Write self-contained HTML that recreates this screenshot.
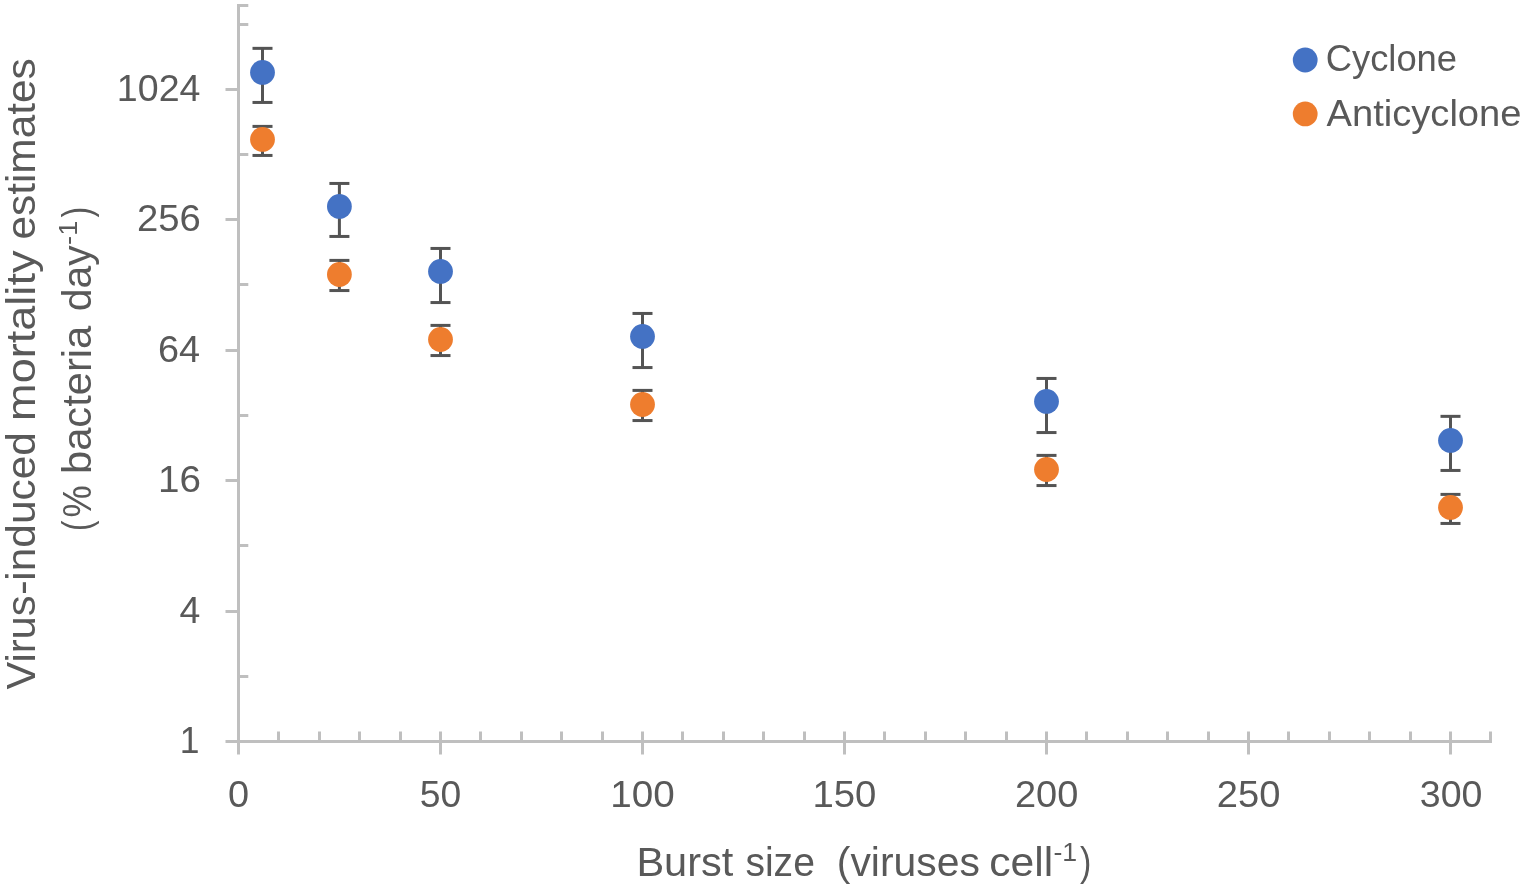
<!DOCTYPE html>
<html lang="en"><head><meta charset="utf-8"><title>Virus-induced mortality estimates vs burst size</title>
<style>html,body{margin:0;padding:0;background:#fff;overflow:hidden}svg{display:block}</style></head>
<body>
<svg width="1526" height="888" viewBox="0 0 1526 888" font-family="'Liberation Sans', sans-serif" fill="#595959">
<rect width="1526" height="888" fill="#fff"/>
<g id="axes">
<rect x="237.00" y="4.00" width="3.00" height="750.50" fill="#BFBFBF"/>
<rect x="225.50" y="740.00" width="1266.50" height="3.00" fill="#BFBFBF"/>
<rect x="225.50" y="610.00" width="12.00" height="3.00" fill="#BFBFBF"/>
<rect x="225.50" y="479.00" width="12.00" height="3.00" fill="#BFBFBF"/>
<rect x="225.50" y="349.00" width="12.00" height="3.00" fill="#BFBFBF"/>
<rect x="225.50" y="218.00" width="12.00" height="3.00" fill="#BFBFBF"/>
<rect x="225.50" y="88.00" width="12.00" height="3.00" fill="#BFBFBF"/>
<rect x="239.00" y="675.00" width="9.30" height="3.00" fill="#BFBFBF"/>
<rect x="239.00" y="544.00" width="9.30" height="3.00" fill="#BFBFBF"/>
<rect x="239.00" y="414.00" width="9.30" height="3.00" fill="#BFBFBF"/>
<rect x="239.00" y="283.00" width="9.30" height="3.00" fill="#BFBFBF"/>
<rect x="239.00" y="153.00" width="9.30" height="3.00" fill="#BFBFBF"/>
<rect x="239.00" y="23.00" width="9.30" height="3.00" fill="#BFBFBF"/>
<rect x="239.00" y="4.00" width="9.30" height="3.00" fill="#BFBFBF"/>
<rect x="439.00" y="742.00" width="3.00" height="12.50" fill="#BFBFBF"/>
<rect x="641.00" y="742.00" width="3.00" height="12.50" fill="#BFBFBF"/>
<rect x="843.00" y="742.00" width="3.00" height="12.50" fill="#BFBFBF"/>
<rect x="1045.00" y="742.00" width="3.00" height="12.50" fill="#BFBFBF"/>
<rect x="1247.00" y="742.00" width="3.00" height="12.50" fill="#BFBFBF"/>
<rect x="1449.00" y="742.00" width="3.00" height="12.50" fill="#BFBFBF"/>
<rect x="277.00" y="731.50" width="3.00" height="9.00" fill="#BFBFBF"/>
<rect x="318.00" y="731.50" width="3.00" height="9.00" fill="#BFBFBF"/>
<rect x="358.00" y="731.50" width="3.00" height="9.00" fill="#BFBFBF"/>
<rect x="399.00" y="731.50" width="3.00" height="9.00" fill="#BFBFBF"/>
<rect x="439.00" y="731.50" width="3.00" height="9.00" fill="#BFBFBF"/>
<rect x="479.00" y="731.50" width="3.00" height="9.00" fill="#BFBFBF"/>
<rect x="520.00" y="731.50" width="3.00" height="9.00" fill="#BFBFBF"/>
<rect x="560.00" y="731.50" width="3.00" height="9.00" fill="#BFBFBF"/>
<rect x="601.00" y="731.50" width="3.00" height="9.00" fill="#BFBFBF"/>
<rect x="641.00" y="731.50" width="3.00" height="9.00" fill="#BFBFBF"/>
<rect x="681.00" y="731.50" width="3.00" height="9.00" fill="#BFBFBF"/>
<rect x="722.00" y="731.50" width="3.00" height="9.00" fill="#BFBFBF"/>
<rect x="762.00" y="731.50" width="3.00" height="9.00" fill="#BFBFBF"/>
<rect x="803.00" y="731.50" width="3.00" height="9.00" fill="#BFBFBF"/>
<rect x="843.00" y="731.50" width="3.00" height="9.00" fill="#BFBFBF"/>
<rect x="883.00" y="731.50" width="3.00" height="9.00" fill="#BFBFBF"/>
<rect x="924.00" y="731.50" width="3.00" height="9.00" fill="#BFBFBF"/>
<rect x="964.00" y="731.50" width="3.00" height="9.00" fill="#BFBFBF"/>
<rect x="1005.00" y="731.50" width="3.00" height="9.00" fill="#BFBFBF"/>
<rect x="1045.00" y="731.50" width="3.00" height="9.00" fill="#BFBFBF"/>
<rect x="1085.00" y="731.50" width="3.00" height="9.00" fill="#BFBFBF"/>
<rect x="1126.00" y="731.50" width="3.00" height="9.00" fill="#BFBFBF"/>
<rect x="1166.00" y="731.50" width="3.00" height="9.00" fill="#BFBFBF"/>
<rect x="1207.00" y="731.50" width="3.00" height="9.00" fill="#BFBFBF"/>
<rect x="1247.00" y="731.50" width="3.00" height="9.00" fill="#BFBFBF"/>
<rect x="1287.00" y="731.50" width="3.00" height="9.00" fill="#BFBFBF"/>
<rect x="1328.00" y="731.50" width="3.00" height="9.00" fill="#BFBFBF"/>
<rect x="1368.00" y="731.50" width="3.00" height="9.00" fill="#BFBFBF"/>
<rect x="1409.00" y="731.50" width="3.00" height="9.00" fill="#BFBFBF"/>
<rect x="1449.00" y="731.50" width="3.00" height="9.00" fill="#BFBFBF"/>
<rect x="1489.00" y="731.50" width="3.00" height="9.00" fill="#BFBFBF"/>
</g>
<g id="cyclone">
<rect x="261.00" y="48.35" width="3.00" height="54.10" fill="#545454"/>
<rect x="252.50" y="46.85" width="20.00" height="3.00" fill="#545454"/>
<rect x="252.50" y="100.95" width="20.00" height="3.00" fill="#545454"/>
<circle cx="262.50" cy="72.40" r="12.4" fill="#4472C4"/>
<rect x="337.90" y="183.45" width="3.00" height="53.00" fill="#545454"/>
<rect x="329.40" y="181.95" width="20.00" height="3.00" fill="#545454"/>
<rect x="329.40" y="234.95" width="20.00" height="3.00" fill="#545454"/>
<circle cx="339.40" cy="206.40" r="12.4" fill="#4472C4"/>
<rect x="439.00" y="248.45" width="3.00" height="54.10" fill="#545454"/>
<rect x="430.50" y="246.95" width="20.00" height="3.00" fill="#545454"/>
<rect x="430.50" y="301.05" width="20.00" height="3.00" fill="#545454"/>
<circle cx="440.50" cy="271.40" r="12.4" fill="#4472C4"/>
<rect x="641.00" y="313.45" width="3.00" height="54.10" fill="#545454"/>
<rect x="632.50" y="311.95" width="20.00" height="3.00" fill="#545454"/>
<rect x="632.50" y="366.05" width="20.00" height="3.00" fill="#545454"/>
<circle cx="642.50" cy="336.40" r="12.4" fill="#4472C4"/>
<rect x="1045.00" y="378.45" width="3.00" height="54.10" fill="#545454"/>
<rect x="1036.50" y="376.95" width="20.00" height="3.00" fill="#545454"/>
<rect x="1036.50" y="431.05" width="20.00" height="3.00" fill="#545454"/>
<circle cx="1046.50" cy="401.40" r="12.4" fill="#4472C4"/>
<rect x="1449.00" y="416.35" width="3.00" height="54.10" fill="#545454"/>
<rect x="1440.50" y="414.85" width="20.00" height="3.00" fill="#545454"/>
<rect x="1440.50" y="468.95" width="20.00" height="3.00" fill="#545454"/>
<circle cx="1450.50" cy="440.40" r="12.4" fill="#4472C4"/>
</g>
<g id="anticyclone">
<rect x="261.00" y="126.40" width="3.00" height="29.05" fill="#545454"/>
<rect x="252.50" y="124.90" width="20.00" height="3.00" fill="#545454"/>
<rect x="252.50" y="153.95" width="20.00" height="3.00" fill="#545454"/>
<circle cx="262.50" cy="139.40" r="12.4" fill="#EE7D2E"/>
<rect x="337.90" y="260.40" width="3.00" height="30.15" fill="#545454"/>
<rect x="329.40" y="258.90" width="20.00" height="3.00" fill="#545454"/>
<rect x="329.40" y="289.05" width="20.00" height="3.00" fill="#545454"/>
<circle cx="339.40" cy="274.50" r="12.4" fill="#EE7D2E"/>
<rect x="439.00" y="325.40" width="3.00" height="30.15" fill="#545454"/>
<rect x="430.50" y="323.90" width="20.00" height="3.00" fill="#545454"/>
<rect x="430.50" y="354.05" width="20.00" height="3.00" fill="#545454"/>
<circle cx="440.50" cy="339.50" r="12.4" fill="#EE7D2E"/>
<rect x="641.00" y="390.40" width="3.00" height="30.15" fill="#545454"/>
<rect x="632.50" y="388.90" width="20.00" height="3.00" fill="#545454"/>
<rect x="632.50" y="419.05" width="20.00" height="3.00" fill="#545454"/>
<circle cx="642.50" cy="404.50" r="12.4" fill="#EE7D2E"/>
<rect x="1045.00" y="455.40" width="3.00" height="30.15" fill="#545454"/>
<rect x="1036.50" y="453.90" width="20.00" height="3.00" fill="#545454"/>
<rect x="1036.50" y="484.05" width="20.00" height="3.00" fill="#545454"/>
<circle cx="1046.50" cy="469.50" r="12.4" fill="#EE7D2E"/>
<rect x="1449.00" y="494.40" width="3.00" height="29.05" fill="#545454"/>
<rect x="1440.50" y="492.90" width="20.00" height="3.00" fill="#545454"/>
<rect x="1440.50" y="521.95" width="20.00" height="3.00" fill="#545454"/>
<circle cx="1450.50" cy="507.40" r="12.4" fill="#EE7D2E"/>
</g>
<g id="legend">
<circle cx="1305.2" cy="60" r="12.4" fill="#4472C4"/>
<circle cx="1305.2" cy="113.9" r="12.4" fill="#EE7D2E"/>
</g>
<g id="x-tick-labels">
<text x="228.02" y="807.00" font-size="36" textLength="21.09" lengthAdjust="spacingAndGlyphs">0</text>
<text x="419.67" y="807.00" font-size="36" textLength="41.45" lengthAdjust="spacingAndGlyphs">50</text>
<text x="610.37" y="807.00" font-size="36" textLength="64.46" lengthAdjust="spacingAndGlyphs">100</text>
<text x="812.42" y="807.00" font-size="36" textLength="63.94" lengthAdjust="spacingAndGlyphs">150</text>
<text x="1014.91" y="807.00" font-size="36" textLength="63.35" lengthAdjust="spacingAndGlyphs">200</text>
<text x="1216.75" y="807.00" font-size="36" textLength="63.60" lengthAdjust="spacingAndGlyphs">250</text>
<text x="1419.81" y="807.00" font-size="36" textLength="62.58" lengthAdjust="spacingAndGlyphs">300</text>
</g><g id="y-tick-labels">
<text x="179.64" y="753.00" font-size="36" textLength="19.71" lengthAdjust="spacingAndGlyphs">1</text>
<text x="179.53" y="622.60" font-size="36" textLength="20.84" lengthAdjust="spacingAndGlyphs">4</text>
<text x="158.07" y="492.20" font-size="36" textLength="42.91" lengthAdjust="spacingAndGlyphs">16</text>
<text x="158.08" y="361.80" font-size="36" textLength="42.09" lengthAdjust="spacingAndGlyphs">64</text>
<text x="137.09" y="231.40" font-size="36" textLength="63.83" lengthAdjust="spacingAndGlyphs">256</text>
<text x="116.87" y="101.00" font-size="36" textLength="83.55" lengthAdjust="spacingAndGlyphs">1024</text>
</g><g id="legend-labels">
<text x="1325.70" y="71.40" font-size="36" textLength="131.38" lengthAdjust="spacingAndGlyphs">Cyclone</text>
<text x="1326.57" y="125.80" font-size="36" textLength="194.90" lengthAdjust="spacingAndGlyphs">Anticyclone</text>
</g>
<text id="x-title"><tspan x="636.42" y="875.7" font-size="41.5" textLength="96.90" lengthAdjust="spacingAndGlyphs">Burst</tspan> <tspan x="745.44" y="875.7" font-size="41.5" textLength="69.40" lengthAdjust="spacingAndGlyphs">size</tspan>  <tspan x="836.85" y="875.7" font-size="41.5" textLength="143.01" lengthAdjust="spacingAndGlyphs">(viruses</tspan> <tspan x="989.31" y="875.7" font-size="41.5" textLength="63.98" lengthAdjust="spacingAndGlyphs">cell</tspan><tspan x="1053.45" y="861" font-size="25" textLength="23.71" lengthAdjust="spacingAndGlyphs">-1</tspan><tspan x="1080.07" y="875.7" font-size="41.5" textLength="11.36" lengthAdjust="spacingAndGlyphs">)</tspan></text>
<text id="y-title-1" transform="translate(34.9,0) rotate(-90)"><tspan x="-689.60" y="0" font-size="41.5" textLength="94.18" lengthAdjust="spacingAndGlyphs">Virus</tspan><tspan x="-595.14" y="0" font-size="41.5" textLength="14.78" lengthAdjust="spacingAndGlyphs">-</tspan><tspan x="-580.71" y="0" font-size="41.5" textLength="148.56" lengthAdjust="spacingAndGlyphs">induced</tspan> <tspan x="-420.95" y="0" font-size="41.5" textLength="170.42" lengthAdjust="spacingAndGlyphs">mortality</tspan> <tspan x="-239.61" y="0" font-size="41.5" textLength="181.34" lengthAdjust="spacingAndGlyphs">estimates</tspan></text>
<text id="y-title-2" transform="translate(91.1,0) rotate(-90)"><tspan x="-531.01" y="0" font-size="41.5" textLength="10.56" lengthAdjust="spacingAndGlyphs">(</tspan><tspan x="-517.49" y="0" font-size="41.5" textLength="32.19" lengthAdjust="spacingAndGlyphs">%</tspan> <tspan x="-474.02" y="0" font-size="41.5" textLength="148.22" lengthAdjust="spacingAndGlyphs">bacteria</tspan> <tspan x="-311.28" y="0" font-size="41.5" textLength="65.85" lengthAdjust="spacingAndGlyphs">day</tspan><tspan x="-244.90" y="-14.1" font-size="25" textLength="24.27" lengthAdjust="spacingAndGlyphs">-1</tspan><tspan x="-217.40" y="0" font-size="41.5" textLength="10.63" lengthAdjust="spacingAndGlyphs">)</tspan></text>
</svg>
</body></html>
